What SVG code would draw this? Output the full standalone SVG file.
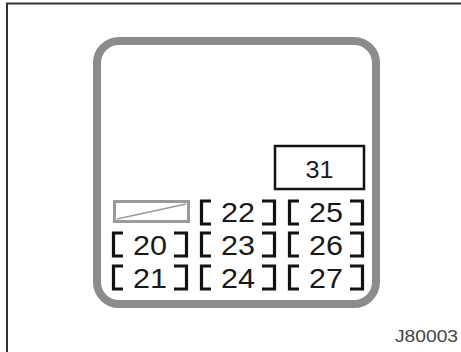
<svg xmlns="http://www.w3.org/2000/svg" xmlns:xlink="http://www.w3.org/1999/xlink" width="461" height="352" viewBox="0 0 461 352">
<style>
.t{font-family:"Liberation Sans",Arial,sans-serif;font-size:28px;fill:#1a1a1a;text-anchor:middle}
.b{fill:none;stroke:#111;stroke-width:3.2}
</style>
<defs>
<g id="brk">
<path class="b" d="M11 0H1.5V23H11"/>
<path class="b" d="M62 0H74.5V23H62"/>
</g>
</defs>
<rect width="461" height="352" fill="#fff"/>
<g id="frame">
<path d="M7 352V3.5H461" fill="none" stroke="#333" stroke-width="2"/>
</g>
<g id="panel">
<rect x="97" y="41" width="279" height="263" rx="22" fill="none" stroke="#8c8c8c" stroke-width="8"/>
</g>
<g id="f31">
<rect x="275" y="146" width="89" height="43" fill="none" stroke="#111" stroke-width="2.5"/>
<text class="t" x="319.5" y="178" textLength="28" lengthAdjust="spacingAndGlyphs" style="font-size:24px">31</text>
</g>
<g id="spare">
<rect x="114.5" y="201.5" width="74" height="20" fill="none" stroke="#9a9a9a" stroke-width="3"/>
<path d="M117 219L186 204" fill="none" stroke="#9a9a9a" stroke-width="1.5"/>
</g>
<g id="f22"><use xlink:href="#brk" x="200" y="201"/><text class="t" x="238" y="222" textLength="34" lengthAdjust="spacingAndGlyphs">22</text></g>
<g id="f25"><use xlink:href="#brk" x="288" y="201"/><text class="t" x="326" y="222" textLength="34" lengthAdjust="spacingAndGlyphs">25</text></g>
<g id="f20"><use xlink:href="#brk" x="112" y="233"/><text class="t" x="150" y="255" textLength="34" lengthAdjust="spacingAndGlyphs">20</text></g>
<g id="f23"><use xlink:href="#brk" x="200" y="233"/><text class="t" x="238" y="255" textLength="34" lengthAdjust="spacingAndGlyphs">23</text></g>
<g id="f26"><use xlink:href="#brk" x="288" y="233"/><text class="t" x="326" y="255" textLength="34" lengthAdjust="spacingAndGlyphs">26</text></g>
<g id="f21"><use xlink:href="#brk" x="112" y="266"/><text class="t" x="150" y="288" textLength="34" lengthAdjust="spacingAndGlyphs">21</text></g>
<g id="f24"><use xlink:href="#brk" x="200" y="266"/><text class="t" x="238" y="288" textLength="34" lengthAdjust="spacingAndGlyphs">24</text></g>
<g id="f27"><use xlink:href="#brk" x="288" y="266"/><text class="t" x="326" y="288" textLength="34" lengthAdjust="spacingAndGlyphs">27</text></g>
<g id="connectors"/>
<text x="395" y="342" textLength="63" lengthAdjust="spacingAndGlyphs" style="font-family:'Liberation Sans',Arial,sans-serif;font-size:16px;fill:#444">J80003</text>
</svg>
